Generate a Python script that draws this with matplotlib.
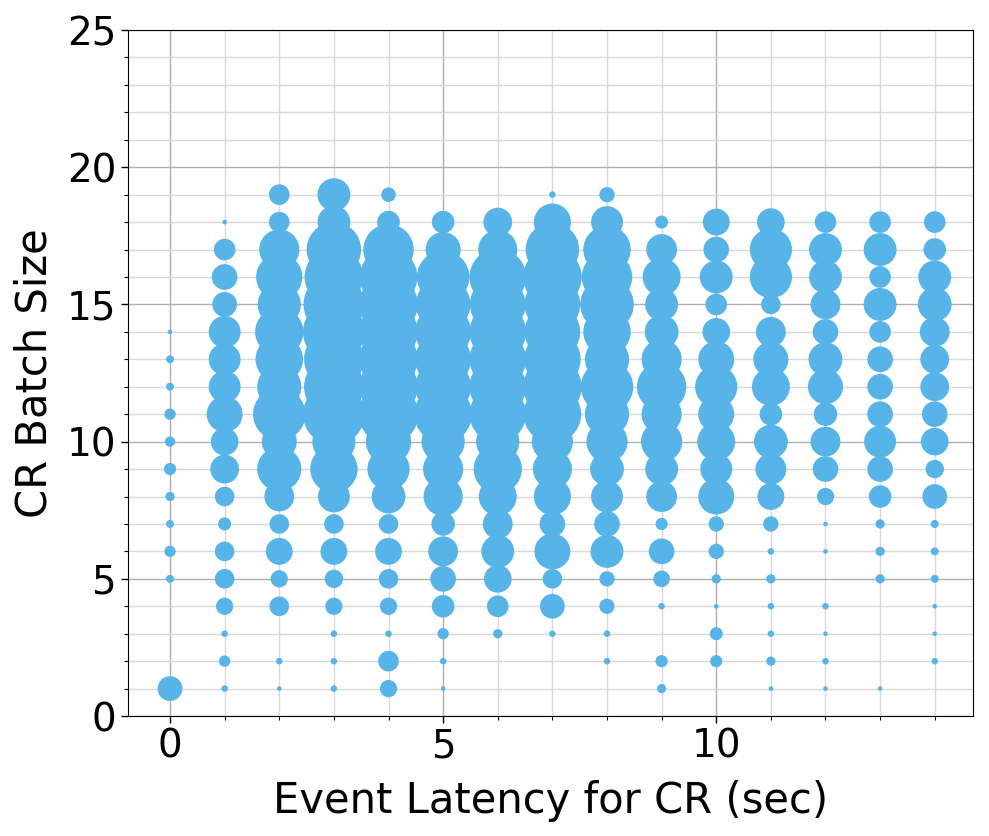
import matplotlib
matplotlib.use("Agg")
import matplotlib.pyplot as plt
from matplotlib.ticker import MultipleLocator

# event latency (sec) on x, CR batch size on y
latencies = list(range(15))
batch_sizes = list(range(1, 20))

# number of events per (latency, batch size); one row per latency, batch sizes 1..19
counts = [
    [29, 0, 0, 0, 3, 6, 3, 4, 7, 5, 6, 3, 3, 1, 0, 0, 0, 0, 0],
    [2, 6, 2, 14, 18, 18, 8, 18, 39, 36, 61, 48, 48, 48, 29, 31, 22, 1, 0],
    [1, 2, 0, 18, 14, 34, 18, 42, 92, 58, 130, 92, 106, 110, 88, 101, 76, 20, 20],
    [2, 2, 2, 14, 16, 34, 18, 48, 106, 88, 180, 168, 168, 180, 174, 162, 140, 51, 51],
    [14, 20, 2, 14, 18, 34, 18, 54, 84, 97, 168, 162, 162, 162, 162, 157, 120, 24, 10],
    [1, 2, 6, 24, 31, 42, 26, 72, 76, 88, 157, 146, 146, 146, 140, 130, 58, 24, 0],
    [0, 0, 4, 22, 36, 51, 42, 68, 110, 88, 151, 151, 151, 151, 146, 151, 72, 39, 0],
    [0, 0, 2, 29, 18, 61, 31, 65, 72, 80, 157, 162, 151, 146, 146, 162, 135, 65, 2],
    [0, 2, 2, 11, 11, 51, 31, 48, 54, 80, 92, 130, 92, 106, 135, 120, 106, 48, 11],
    [4, 7, 0, 2, 13, 31, 7, 45, 51, 80, 76, 115, 76, 54, 51, 68, 45, 8, 0],
    [0, 7, 8, 1, 4, 11, 11, 61, 48, 68, 61, 84, 61, 36, 22, 51, 31, 34, 0],
    [1, 4, 2, 2, 4, 2, 11, 34, 45, 54, 24, 68, 58, 42, 18, 84, 84, 36, 0],
    [1, 2, 1, 2, 0, 1, 1, 14, 31, 42, 26, 58, 54, 31, 42, 51, 51, 22, 0],
    [1, 0, 0, 0, 4, 4, 4, 24, 31, 48, 31, 31, 31, 22, 51, 22, 51, 22, 0],
    [0, 2, 1, 1, 3, 3, 3, 29, 16, 36, 31, 39, 39, 42, 54, 51, 24, 22, 0],
]

xs, ys, ss = [], [], []
for lat, row in zip(latencies, counts):
    for b, c in zip(batch_sizes, row):
        if c > 0:
            xs.append(lat)
            ys.append(b)
            ss.append(c * 11)

fig = plt.figure(figsize=(9.89, 8.36), dpi=100)
ax = fig.add_axes([0.1294, 0.1435, 0.8544, 0.8206])

ax.scatter(xs, ys, s=ss, color='#56B4E9', edgecolors='none', zorder=3)

ax.set_xlim(-0.77, 14.7)
ax.set_ylim(0, 25)
ax.xaxis.set_major_locator(MultipleLocator(5))
ax.xaxis.set_minor_locator(MultipleLocator(1))
ax.yaxis.set_major_locator(MultipleLocator(5))
ax.yaxis.set_minor_locator(MultipleLocator(1))
ax.set_axisbelow(True)
ax.grid(which='major', color='#b0b0b0', linewidth=1.0)
ax.grid(which='minor', color='#d8d8d8', linewidth=1.0)

ax.tick_params(which='major', labelsize=28, length=5, width=1)
ax.tick_params(which='minor', length=3, width=0.8)
ax.set_xlabel('Event Latency for CR (sec)', fontsize=30, labelpad=10)
ax.set_ylabel('CR Batch Size', fontsize=30, labelpad=8)

fig.savefig('out.png', dpi=100)
